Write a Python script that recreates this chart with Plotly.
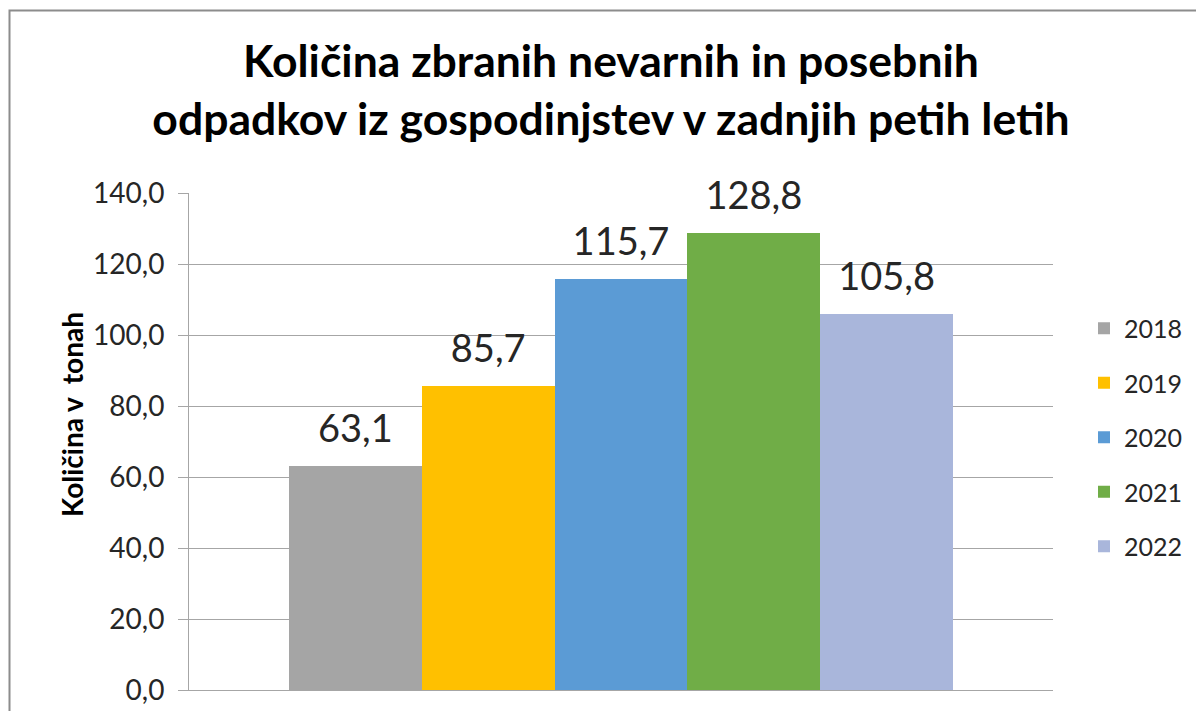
import plotly.graph_objects as go

years = ["2018", "2019", "2020", "2021", "2022"]
values = [63.1, 85.7, 115.7, 128.8, 105.8]
colors = ["#a5a5a5", "#ffc000", "#5b9bd5", "#70ad47", "#a9b6db"]
tick_vals = [0, 20, 40, 60, 80, 100, 120, 140]

title_text = "Količina zbranih nevarnih in posebnih<br>odpadkov iz gospodinjstev v zadnjih petih letih"
y_title = "Količina v\u00a0 tonah"

# the html page puts an 8px body margin round the figure, so the figure is
# made 8px smaller and everything below is in figure pixels (page - 8)
W, H = 1196, 703
L, R, T, B = 181, 151, 185, 21

fig = go.Figure()

for yr, val, col in zip(years, values, colors):
    fig.add_trace(go.Bar(
        x=[yr], y=[val], name=yr, marker_color=col, marker_line_width=0,
        legendgroup=yr, hoverinfo="skip",
    ))

# data labels sitting a bit above each bar
fig.add_trace(go.Scatter(
    x=years, y=values, mode="markers+text",
    marker=dict(size=22, color="rgba(0,0,0,0)"),
    texttemplate="%{y:.1f}", textposition="top center",
    textfont=dict(family="Lato", size=38, color="#262626"),
    showlegend=False, hoverinfo="skip", cliponaxis=False,
))

pw = W - L - R
ph = H - T - B
# keep the 5 bars at the same share of the plot width as the original
span = 5 * pw / 664
pad = (span - 5) / 2

fig.update_layout(
    width=W, height=H,
    margin=dict(l=L, r=R, t=T, b=B, autoexpand=False),
    paper_bgcolor="white", plot_bgcolor="white",
    barmode="overlay", bargap=0,
    separators=",.",
    font=dict(family="Lato", color="#262626"),
    title=dict(
        text=title_text, x=603 / W, xanchor="center", xref="container",
        y=1 - 69 / H, yanchor="top", yref="container",
        font=dict(family="Lato", size=44.5, color="black", weight="bold"),
    ),
    legend=dict(
        x=(1076 - L) / pw, xanchor="left", y=(682 - 429.5) / ph, yanchor="middle",
        font=dict(family="Lato", size=25, color="#262626"),
        tracegroupgap=19, bgcolor="rgba(0,0,0,0)",
    ),
    showlegend=True,
)

fig.update_xaxes(
    type="category", range=[-0.5 - pad, 4.5 + pad],
    showticklabels=False, ticks="", showgrid=False, automargin=False,
    showline=True, linecolor="#a6a6a6", linewidth=1, zeroline=False,
)
fig.update_yaxes(
    range=[0, 140], tickvals=tick_vals, tickformat=".1f", automargin=False,
    showgrid=True, gridcolor="#a6a6a6", gridwidth=1,
    ticks="outside", ticklen=10, tickcolor="#a6a6a6",
    showline=True, linecolor="#a6a6a6", linewidth=1, zeroline=False,
    tickfont=dict(family="Lato", size=28, color="#262626"),
    ticklabelstandoff=8,
)

# y axis title placed where the original has it
fig.add_annotation(
    text=y_title, textangle=-90, xref="paper", yref="paper",
    x=(64 - L) / pw, y=(682 - 407) / ph, xanchor="center", yanchor="middle",
    showarrow=False, font=dict(family="Lato", size=28, color="black", weight="bold"),
)

# chart-area frame (bottom and right edges fall outside the picture)
fig.add_shape(
    type="rect", xref="paper", yref="paper",
    x0=(1.5 - L) / pw, x1=1.4, y0=-0.2, y1=(682 - 2.5) / ph,
    line=dict(color="#8c8c8c", width=2), layer="below",
)

fig.write_html("out.html")
